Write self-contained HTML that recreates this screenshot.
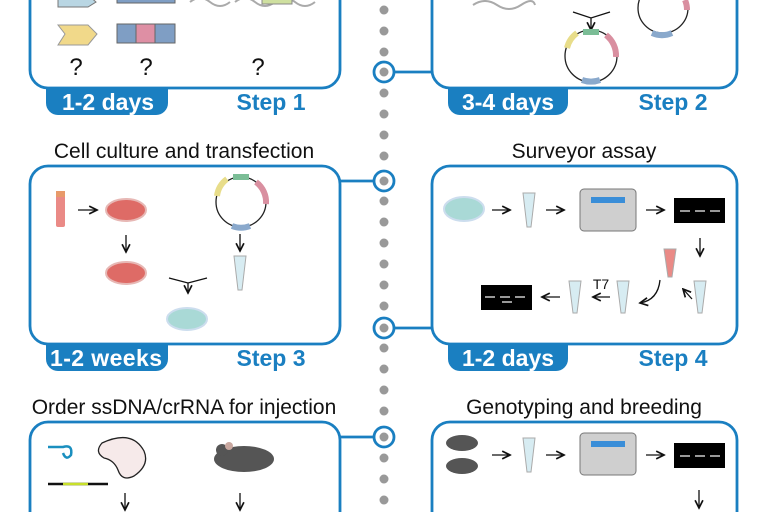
<!DOCTYPE html><html><head><style>body{margin:0;background:#fff}svg{display:block}</style></head><body>
<svg width="768" height="512" viewBox="0 0 768 512" xmlns="http://www.w3.org/2000/svg" font-family="Liberation Sans, Arial, sans-serif">
<defs><marker id="a" markerWidth="8" markerHeight="8" refX="7" refY="4" orient="auto"><path d="M1,1 L7,4 L1,7" fill="none" stroke="#111" stroke-width="1.3"/></marker></defs>
<g fill="#999">
<circle cx="384" cy="10" r="4.5"/><circle cx="384" cy="31" r="4.5"/><circle cx="384" cy="52" r="4.5"/><circle cx="384" cy="72" r="4.5"/><circle cx="384" cy="93" r="4.5"/><circle cx="384" cy="114" r="4.5"/><circle cx="384" cy="135" r="4.5"/><circle cx="384" cy="156" r="4.5"/><circle cx="384" cy="181" r="4.5"/><circle cx="384" cy="201" r="4.5"/><circle cx="384" cy="222" r="4.5"/><circle cx="384" cy="243" r="4.5"/><circle cx="384" cy="264" r="4.5"/><circle cx="384" cy="285" r="4.5"/><circle cx="384" cy="306" r="4.5"/><circle cx="384" cy="328" r="4.5"/><circle cx="384" cy="348" r="4.5"/><circle cx="384" cy="369" r="4.5"/><circle cx="384" cy="390" r="4.5"/><circle cx="384" cy="411" r="4.5"/><circle cx="384" cy="437" r="4.5"/><circle cx="384" cy="458" r="4.5"/><circle cx="384" cy="479" r="4.5"/><circle cx="384" cy="500" r="4.5"/></g>
<g fill="none" stroke="#1a7fc1" stroke-width="2.8">
<circle cx="384" cy="72" r="10"/><circle cx="384" cy="181" r="10"/><circle cx="384" cy="328" r="10"/><circle cx="384" cy="437" r="10"/>
<line x1="394" y1="72" x2="432" y2="72"/><line x1="340" y1="181" x2="374" y2="181"/><line x1="394" y1="328" x2="432" y2="328"/><line x1="340" y1="437" x2="374" y2="437"/>
<path d="M30,-20 V70 a18,18 0 0 0 18,18 H322 a18,18 0 0 0 18,-18 V-20"/>
<path d="M432,-20 V70 a18,18 0 0 0 18,18 H719 a18,18 0 0 0 18,-18 V-20"/>
<rect x="30" y="166" width="310" height="178" rx="18"/>
<rect x="432" y="166" width="305" height="178" rx="18"/>
<path d="M30,530 V440 a18,18 0 0 1 18,-18 H322 a18,18 0 0 1 18,18 V530"/>
<path d="M432,530 V440 a18,18 0 0 1 18,-18 H719 a18,18 0 0 1 18,18 V530"/>
</g>
<g fill="#1a7fc1">
<path d="M46,88 H168 V103 a12,12 0 0 1 -12,12 H58 a12,12 0 0 1 -12,-12Z"/>
<path d="M448,88 H568 V103 a12,12 0 0 1 -12,12 H460 a12,12 0 0 1 -12,-12Z"/>
<path d="M46,344 H168 V359 a12,12 0 0 1 -12,12 H58 a12,12 0 0 1 -12,-12Z"/>
<path d="M448,344 H568 V359 a12,12 0 0 1 -12,12 H460 a12,12 0 0 1 -12,-12Z"/>
</g>
<g font-weight="bold" font-size="23" fill="#fff" text-anchor="middle">
<text x="108" y="110">1-2 days</text><text x="508" y="110">3-4 days</text>
<text x="106" y="366" textLength="112">1-2 weeks</text><text x="508" y="366">1-2 days</text></g>
<g font-weight="bold" font-size="23" fill="#1a7fc1" text-anchor="middle">
<text x="271" y="110">Step 1</text><text x="673" y="110">Step 2</text>
<text x="271" y="366">Step 3</text><text x="673" y="366">Step 4</text></g>
<g font-size="21" fill="#111" text-anchor="middle">
<text x="184" y="158">Cell culture and transfection</text>
<text x="584" y="158">Surveyor assay</text>
<text x="184" y="414">Order ssDNA/crRNA for injection</text>
<text x="584" y="414">Genotyping and breeding</text>
<text x="76" y="75" font-size="24">?</text><text x="146" y="75" font-size="24">?</text><text x="258" y="75" font-size="24">?</text>
<text x="601" y="289" font-size="14">T7</text></g>
<!-- step1 icons -->
<path d="M58,-5 H88 L96,2 L88,7 H58Z" fill="#b9d6e3" stroke="#777"/>
<path d="M58,25 H88 L97,34 L88,45 H58 L65,34Z" fill="#f1d98a" stroke="#999"/>
<rect x="117" y="24" width="58" height="19" fill="#7f9ec4" stroke="#666"/><rect x="136" y="24" width="19" height="19" fill="#de8fa4" stroke="#666"/>
<rect x="117" y="-5" width="58" height="8" fill="#7f9ec4" stroke="#666"/>
<path d="M190,2 q10,-8 20,0 t20,0 M235,2 q10,-8 20,0 t20,0 t20,0 t20,0" fill="none" stroke="#aaa" stroke-width="2"/>
<rect x="262" y="-4" width="30" height="8" fill="#cfe0a0" stroke="#888"/>
<!-- step2 -->
<path d="M473,5 q12,-8 24,0 t24,0 t14,0" fill="none" stroke="#aaa" stroke-width="2"/>
<path d="M573,12 L591,18 L610,12 M591,18 V30" fill="none" stroke="#111" stroke-width="1.3" marker-end="url(#a)"/>
<circle cx="591" cy="56" r="26" fill="none" stroke="#222" stroke-width="1.3"/>
<path d="M567,48 a26,26 0 0 1 10,-15" stroke="#e8dd8a" stroke-width="6" fill="none"/><path d="M583,32 h16" stroke="#7bbd96" stroke-width="6"/><path d="M606,35 a26,26 0 0 1 10,22" stroke="#d98fa0" stroke-width="6" fill="none"/><path d="M582,80 a26,26 0 0 0 18,0" stroke="#8aa9cc" stroke-width="6" fill="none"/>
<circle cx="663" cy="8" r="25" fill="none" stroke="#222" stroke-width="1.3"/>
<path d="M652,33 a25,25 0 0 0 20,0" stroke="#8aa9cc" stroke-width="6" fill="none"/><path d="M685,0 a25,25 0 0 1 2,10" stroke="#d98fa0" stroke-width="6" fill="none"/>
<!-- step3 -->
<rect x="56" y="191" width="9" height="36" rx="2" fill="#ea8a86"/><rect x="56" y="191" width="9" height="6" fill="#e89a6a"/>
<line x1="78" y1="210" x2="97" y2="210" stroke="#111" stroke-width="1.3" marker-end="url(#a)"/>
<ellipse cx="126" cy="210" rx="20" ry="11" fill="#de6b66" stroke="#e7b8b5" stroke-width="2"/>
<line x1="126" y1="235" x2="126" y2="252" stroke="#111" stroke-width="1.3" marker-end="url(#a)"/>
<ellipse cx="126" cy="273" rx="20" ry="11" fill="#de6b66" stroke="#e7b8b5" stroke-width="2"/>
<circle cx="241" cy="202" r="25" fill="none" stroke="#222" stroke-width="1.3"/>
<path d="M217,196 a25,25 0 0 1 10,-17" stroke="#e8dd8a" stroke-width="6" fill="none"/><path d="M233,177 h16" stroke="#7bbd96" stroke-width="6"/><path d="M256,182 a25,25 0 0 1 10,22" stroke="#d98fa0" stroke-width="6" fill="none"/><path d="M232,226 a25,25 0 0 0 18,0" stroke="#8aa9cc" stroke-width="6" fill="none"/>
<line x1="240" y1="234" x2="240" y2="251" stroke="#111" stroke-width="1.3" marker-end="url(#a)"/>
<path d="M234,256 h12 l-4,34 h-4z" fill="#d7ecf2" stroke="#aaa"/>
<path d="M169,278 L188,283 L207,278 M188,283 V293" fill="none" stroke="#111" stroke-width="1.3" marker-end="url(#a)"/>
<ellipse cx="187" cy="319" rx="20" ry="11" fill="#a9d9d6" stroke="#cde" stroke-width="2"/>
<!-- step4 -->
<ellipse cx="464" cy="209" rx="20" ry="12" fill="#a9d9d6" stroke="#cde" stroke-width="2"/>
<line x1="492" y1="210" x2="510" y2="210" stroke="#111" stroke-width="1.3" marker-end="url(#a)"/>
<path d="M523,193 h12 l-4,34 h-4z" fill="#d7ecf2" stroke="#aaa"/>
<line x1="546" y1="210" x2="564" y2="210" stroke="#111" stroke-width="1.3" marker-end="url(#a)"/>
<rect x="580" y="189" width="56" height="42" rx="4" fill="#cfcfcf" stroke="#777"/><rect x="591" y="197" width="34" height="6" fill="#3a8ed8"/>
<line x1="646" y1="210" x2="664" y2="210" stroke="#111" stroke-width="1.3" marker-end="url(#a)"/>
<rect x="674" y="198" width="51" height="25" fill="#000"/><path d="M680,211 h10 M695,211 h10 M710,211 h10" stroke="#ccc" stroke-width="1.5"/>
<line x1="700" y1="238" x2="700" y2="256" stroke="#111" stroke-width="1.3" marker-end="url(#a)"/>
<path d="M664,249 h12 l-4,28 h-4z" fill="#ea8a86" stroke="#aaa"/>
<path d="M694,281 h12 l-4,32 h-4z" fill="#d7ecf2" stroke="#aaa"/>
<path d="M692,299 L683,289" stroke="#111" stroke-width="1.3" marker-end="url(#a)"/>
<path d="M660,280 q-2,20 -20,23" fill="none" stroke="#111" stroke-width="1.3" marker-end="url(#a)"/>
<path d="M617,281 h12 l-4,32 h-4z" fill="#d7ecf2" stroke="#aaa"/>
<line x1="610" y1="297" x2="593" y2="297" stroke="#111" stroke-width="1.3" marker-end="url(#a)"/>
<path d="M569,281 h12 l-4,32 h-4z" fill="#d7ecf2" stroke="#aaa"/>
<line x1="560" y1="297" x2="542" y2="297" stroke="#111" stroke-width="1.3" marker-end="url(#a)"/>
<rect x="481" y="285" width="51" height="25" fill="#000"/><path d="M485,297 h10 M500,297 h10 M515,297 h10 M502,302 h10" stroke="#ccc" stroke-width="1.5"/>
<!-- step5 -->
<path d="M48,447 h15 q10,-3 8,8 q-5,6 -8,-2" fill="none" stroke="#1a8fbf" stroke-width="2.5"/>
<path d="M48,484 H108" stroke="#111" stroke-width="2.5"/><path d="M63,484 H88" stroke="#c8e02a" stroke-width="2.5"/>
<path d="M102,443 q30,-14 42,8 q6,14 -10,25 q-12,6 -16,-6 q-4,-10 -14,-12 q-10,-6 -2,-15z" fill="#f6eaea" stroke="#222" stroke-width="1.3"/>
<line x1="125" y1="493" x2="125" y2="510" stroke="#111" stroke-width="1.3" marker-end="url(#a)"/>
<ellipse cx="244" cy="459" rx="30" ry="13" fill="#555"/><circle cx="222" cy="450" r="6" fill="#555"/><circle cx="229" cy="446" r="4" fill="#c9a8a0"/>
<line x1="240" y1="493" x2="240" y2="510" stroke="#111" stroke-width="1.3" marker-end="url(#a)"/>
<!-- step6 -->
<ellipse cx="462" cy="443" rx="16" ry="8" fill="#555"/><ellipse cx="462" cy="466" rx="16" ry="8" fill="#555"/>
<line x1="492" y1="455" x2="510" y2="455" stroke="#111" stroke-width="1.3" marker-end="url(#a)"/>
<path d="M523,438 h12 l-4,34 h-4z" fill="#d7ecf2" stroke="#aaa"/>
<line x1="546" y1="455" x2="564" y2="455" stroke="#111" stroke-width="1.3" marker-end="url(#a)"/>
<rect x="580" y="433" width="56" height="42" rx="4" fill="#cfcfcf" stroke="#777"/><rect x="591" y="441" width="34" height="6" fill="#3a8ed8"/>
<line x1="646" y1="455" x2="664" y2="455" stroke="#111" stroke-width="1.3" marker-end="url(#a)"/>
<rect x="674" y="443" width="51" height="25" fill="#000"/><path d="M680,456 h10 M695,456 h10 M710,456 h10" stroke="#ccc" stroke-width="1.5"/>
<line x1="699" y1="490" x2="699" y2="508" stroke="#111" stroke-width="1.3" marker-end="url(#a)"/>
</svg></body></html>
